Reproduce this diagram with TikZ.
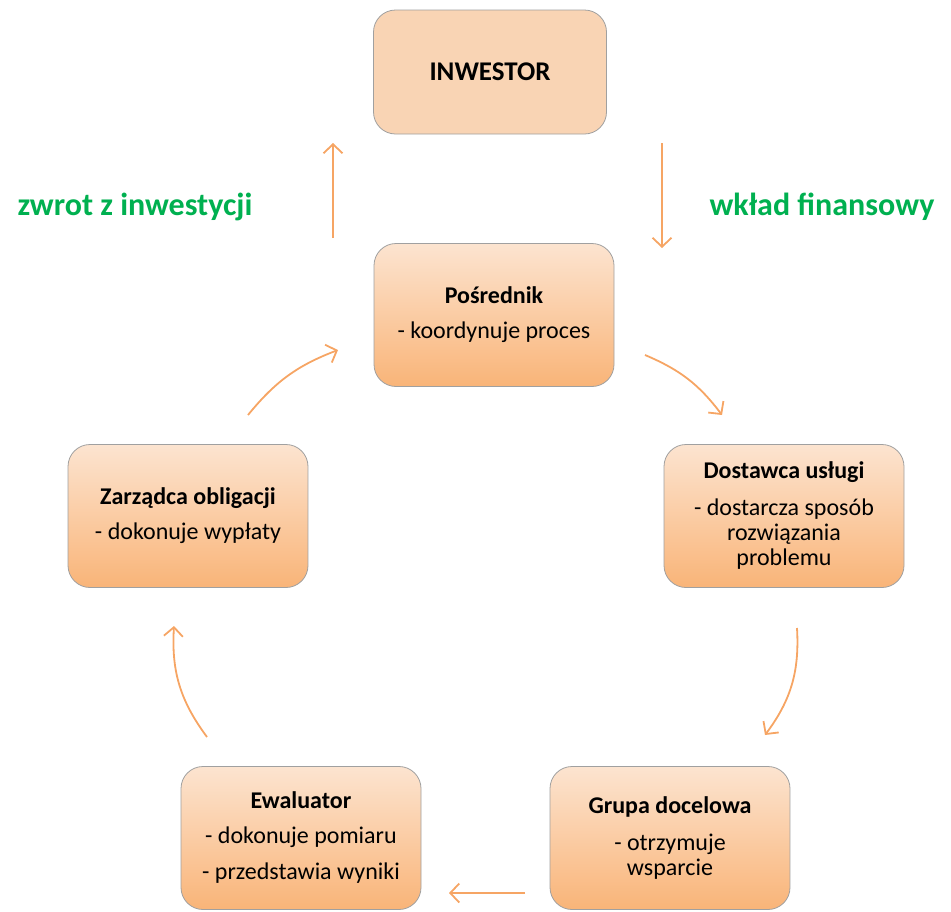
\documentclass[tikz,border=0pt]{standalone}
\usepackage{fontspec}
\setmainfont{Carlito}
\usetikzlibrary{arrows.meta}

\definecolor{boxtop}{HTML}{FCE4D0}
\definecolor{boxbot}{HTML}{F9B478}
\definecolor{invfill}{HTML}{F9D4B4}
\definecolor{arrcol}{HTML}{F6A564}
\definecolor{edgecol}{HTML}{A0A0A0}
\definecolor{labgreen}{HTML}{00B050}

\tikzset{>={Straight Barb[length=9pt, width=19pt]},
         base/.style={draw=edgecol, line width=0.8pt, rounded corners=22pt, align=center,
                      font=\fontsize{24}{25}\selectfont},
         box/.style={base, minimum width=240pt, minimum height=143pt,
                     top color=boxtop, bottom color=boxbot},
         inv/.style={base, fill=invfill, minimum width=233pt, minimum height=124pt,
                     font=\fontsize{27}{30}\selectfont},
         arr/.style={->, draw=arrcol, line width=1.8pt},
         lab/.style={text=labgreen, font=\fontsize{32}{34}\selectfont\bfseries}}

\begin{document}
\begin{tikzpicture}[x=1pt, y=1pt]
        \useasboundingbox (0,0) rectangle (951,-911);

        \node[inv] at (490,  -72) (inwestor)  {\textbf{INWESTOR}};
        \node[box] at (494, -315) (posrednik) {\textbf{Pośrednik}\\[10pt]- koordynuje proces};
        \node[box] at (784, -516) (dostawca)  {\textbf{Dostawca usługi}\\[12pt]- dostarcza sposób\\rozwiązania\\problemu};
        \node[box] at (670, -838) (grupa)     {\textbf{Grupa docelowa}\\[12pt]- otrzymuje\\wsparcie};
        \node[box] at (301, -838) (ewaluator) {\textbf{Ewaluator}\\[10pt]- dokonuje pomiaru\\[11pt]- przedstawia wyniki};
        \node[box] at (188, -516) (zarzadca)  {\textbf{Zarządca obligacji}\\[10pt]- dokonuje wypłaty};

        \node[lab] at (135, -207) (zwrot) {zwrot z inwestycji};
        \node[lab] at (822, -207) (wklad) {wkład finansowy};

        % free ends of the arrows
        \coordinate (zwrotA) at (333, -238);
        \coordinate (zwrotB) at (333, -143);
        \coordinate (wkladA) at (662, -143);
        \coordinate (wkladB) at (662, -248);
        \coordinate (posA)   at (645, -355);
        \coordinate (dosB)   at (722, -415);
        \coordinate (dosA)   at (797, -628);
        \coordinate (gruB)   at (765, -735);
        \coordinate (gruA)   at (525, -893);
        \coordinate (ewaB)   at (449, -893);
        \coordinate (ewaA)   at (207, -737);
        \coordinate (zarB)   at (174, -626);
        \coordinate (zarA)   at (248, -415);
        \coordinate (posB)   at (338, -350);

        \draw[arr] (zwrotA) -- (zwrotB);
        \draw[arr] (wkladA) -- (wkladB);
        \draw[arr] (posA) to[bend left=15] (dosB);
        \draw[arr] (dosA) to[bend left=20] (gruB);
        \draw[arr] (gruA) -- (ewaB);
        \draw[arr] (ewaA) to[bend left=20] (zarB);
        \draw[arr] (zarA) to[bend left=15] (posB);
\end{tikzpicture}
\end{document}
